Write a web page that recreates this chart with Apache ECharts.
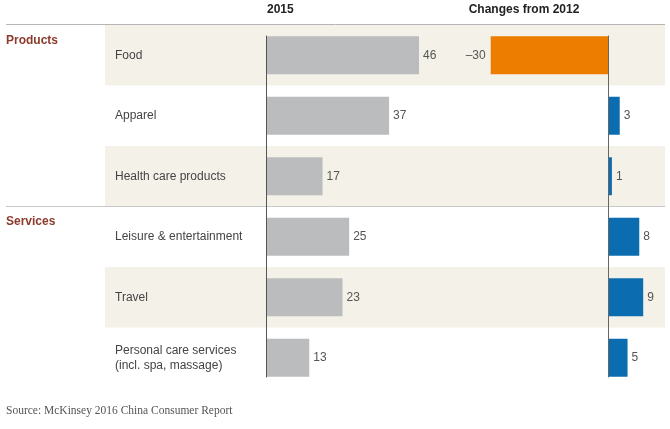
<!DOCTYPE html>
<html><head><meta charset="utf-8">
<script src="https://cdn.jsdelivr.net/npm/echarts@6/dist/echarts.min.js"></script>
<style>html,body{margin:0;padding:0;background:#fff}#c{width:670px;height:429px}</style>
</head><body><div id="c"></div>
<script>
const categories = ['Food', 'Apparel', 'Health care products', 'Leisure & entertainment', 'Travel', 'Personal care services\n(incl. spa, massage)'];
const values2015 = [46, 37, 17, 25, 23, 13];
const changes2012 = [-30, 3, 1, 8, 9, 5];
const groupLabels = ['Products', 'Services'];
const headers = ['2015', 'Changes from 2012'];
const sourceText = 'Source: McKinsey 2016 China Consumer Report';

const FONT = '"Liberation Sans", Arial, sans-serif';
const TOP = 25, H = 363;
const chart = echarts.init(document.getElementById('c'), null, {renderer: 'canvas'});

const hiddenVal = (grid, min, max) => ({type: 'value', gridIndex: grid, min, max, show: false});
const hiddenCat = (grid) => ({type: 'category', gridIndex: grid, data: categories, inverse: true, show: false});

chart.setOption({
  animation: false,
  grid: [
    {left: 105, width: 560, top: TOP, height: H},          // background + labels
    {left: 266, width: 332.6, top: TOP, height: H},        // 2015
    {left: 451.6, width: 195.5, top: TOP, height: H},      // changes
    {left: 266, width: 10, top: 36, height: 341},          // axis line left
    {left: 608, width: 10, top: 36, height: 341}           // axis line right
  ],
  xAxis: [
    hiddenVal(0, 0, 1),
    hiddenVal(1, 0, 100),
    hiddenVal(2, -40, 10),
    hiddenVal(3, 0, 1),
    hiddenVal(4, 0, 1)
  ],
  yAxis: [
    {type: 'category', gridIndex: 0, data: categories, inverse: true,
     axisLine: {show: false}, axisTick: {show: false},
     axisLabel: {inside: true, margin: 10, color: '#444', fontFamily: FONT, fontSize: 12, lineHeight: 15, align: 'left', padding: [2, 0, 0, 0]},
     splitLine: {show: false},
     splitArea: {show: true, areaStyle: {color: ['#f4f1e8', 'rgba(255,255,255,0)']}}},
    hiddenCat(1),
    hiddenCat(2),
    {type: 'category', gridIndex: 3, data: categories, inverse: true, z: 20,
     axisLine: {show: true, lineStyle: {color: '#555', width: 1}}, axisTick: {show: false}, axisLabel: {show: false}},
    {type: 'category', gridIndex: 4, data: categories, inverse: true, z: 20,
     axisLine: {show: true, lineStyle: {color: '#666', width: 1}}, axisTick: {show: false}, axisLabel: {show: false}}
  ],
  series: [
    {type: 'bar', xAxisIndex: 1, yAxisIndex: 1, data: values2015, barWidth: 38, z: 2,
     itemStyle: {color: '#bbbcbe'},
     label: {show: true, position: 'right', distance: 4, color: '#555', fontFamily: FONT, fontSize: 12}},
    {type: 'bar', xAxisIndex: 2, yAxisIndex: 2, barWidth: 38, z: 2,
     data: changes2012.map(v => ({value: v, itemStyle: {color: v < 0 ? '#ec7d00' : '#0b6cb0'},
       label: v < 0 ? {position: 'left', distance: 5} : {position: 'right'}})),
     label: {show: true, position: 'right', distance: 4, color: '#555', fontFamily: FONT, fontSize: 12,
       formatter: p => p.value < 0 ? '\u2013' + Math.abs(p.value) : String(p.value)}}
  ],
  graphic: [
    {type: 'line', shape: {x1: 6, y1: 24.5, x2: 665, y2: 24.5}, style: {stroke: '#b5b5b5', lineWidth: 1}, z: 10},
    {type: 'line', shape: {x1: 6, y1: 206.5, x2: 665, y2: 206.5}, style: {stroke: '#c8c8c8', lineWidth: 1}, z: 10},
    {type: 'text', left: 6, top: 35, style: {text: groupLabels[0], fill: '#8b3a2c', font: 'bold 12px ' + FONT}},
    {type: 'text', left: 6, top: 216, style: {text: groupLabels[1], fill: '#8b3a2c', font: 'bold 12px ' + FONT}},
    {type: 'text', left: 267, top: 4, style: {text: headers[0], fill: '#222', font: 'bold 12px ' + FONT}},
    {type: 'text', x: 524, y: 4, style: {text: headers[1], fill: '#222', font: 'bold 12px ' + FONT, textAlign: 'center'}},
    {type: 'text', left: 6, top: 405, style: {text: sourceText, fill: '#555', font: '11.5px "Liberation Serif", Georgia, serif'}}
  ]
});
</script>
</body></html>
